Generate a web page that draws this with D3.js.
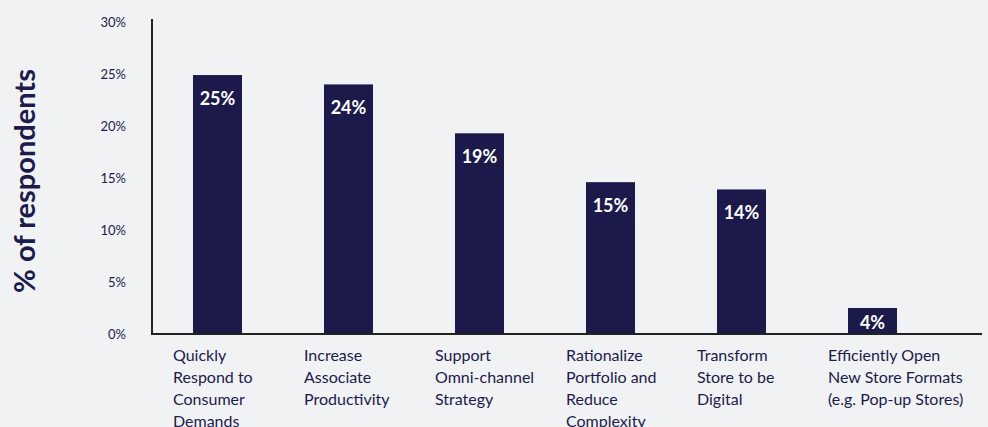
<!DOCTYPE html>
<html>
<head>
  <script src="https://cdnjs.cloudflare.com/ajax/libs/d3/7.8.5/d3.min.js"></script>
  <style>
    body { margin: 0; background: #f1f2f4; }
    text { font-family: "Lato", "DejaVu Sans", sans-serif; fill: #1c1b4b; }
    .tick-label { font-size: 13px; font-weight: 400; }
    .cat-label { font-size: 16px; }
    .bar-label { font-size: 18px; font-weight: 700; fill: #ffffff; }
    .axis-title { font-size: 29px; font-weight: 700; }
  </style>
</head>
<body>
  <div id="chart"></div>
  <script>
    // Data
    const categories = [
      ["Quickly", "Respond to", "Consumer", "Demands"],
      ["Increase", "Associate", "Productivity"],
      ["Support", "Omni-channel", "Strategy"],
      ["Rationalize", "Portfolio and", "Reduce", "Complexity"],
      ["Transform", "Store to be", "Digital"],
      ["Efficiently Open", "New Store Formats", "(e.g. Pop-up Stores)"]
    ];
    const values = [24.9, 24.0, 19.3, 14.6, 13.9, 2.5];
    const valueLabels = ["25%", "24%", "19%", "15%", "14%", "4%"];
    const yTicks = [0, 5, 10, 15, 20, 25, 30];

    const W = 988, H = 427;
    const svg = d3.select("#chart").append("svg")
      .attr("width", W).attr("height", H);

    const x = d3.scaleBand()
      .domain(d3.range(values.length))
      .range([152, 938])
      .paddingInner(0.626)
      .paddingOuter(0.313);

    const y = d3.scaleLinear()
      .domain([0, 30])
      .range([334, 22]);

    // tick labels
    svg.append("g")
      .selectAll("text")
      .data(yTicks)
      .join("text")
        .attr("class", "tick-label")
        .attr("x", 126)
        .attr("y", d => y(d) + 5)
        .attr("text-anchor", "end")
        .text(d => d + "%");

    // bars
    svg.append("g")
      .selectAll("rect")
      .data(values)
      .join("rect")
        .attr("x", (d, i) => x(i))
        .attr("y", d => y(d))
        .attr("width", x.bandwidth())
        .attr("height", d => y(0) - y(d))
        .attr("fill", "#1b1a4a");

    // value labels inside bars
    svg.append("g")
      .selectAll("text")
      .data(values)
      .join("text")
        .attr("class", "bar-label")
        .attr("x", (d, i) => x(i) + x.bandwidth() / 2)
        .attr("y", d => Math.min(y(d) + 30, y(0) - 5))
        .attr("text-anchor", "middle")
        .text((d, i) => valueLabels[i]);

    // axes lines
    svg.append("line")
      .attr("x1", 152).attr("x2", 152)
      .attr("y1", 19).attr("y2", y(0))
      .attr("stroke", "#222").attr("stroke-width", 2);
    svg.append("line")
      .attr("x1", 151).attr("x2", 982)
      .attr("y1", y(0)).attr("y2", y(0))
      .attr("stroke", "#222").attr("stroke-width", 2);

    // category labels
    const cat = svg.append("g")
      .selectAll("text")
      .data(categories)
      .join("text")
        .attr("class", "cat-label")
        .attr("x", (d, i) => x(i) - 20)
        .attr("y", 361);
    cat.selectAll("tspan")
      .data(d => d)
      .join("tspan")
        .attr("x", function() { return d3.select(this.parentNode).attr("x"); })
        .attr("dy", (d, i) => i === 0 ? 0 : 22)
        .text(d => d);

    // y axis title
    svg.append("text")
      .attr("class", "axis-title")
      .attr("transform", "translate(35,181) rotate(-90)")
      .attr("text-anchor", "middle")
      .text("% of respondents");
  </script>
</body>
</html>
